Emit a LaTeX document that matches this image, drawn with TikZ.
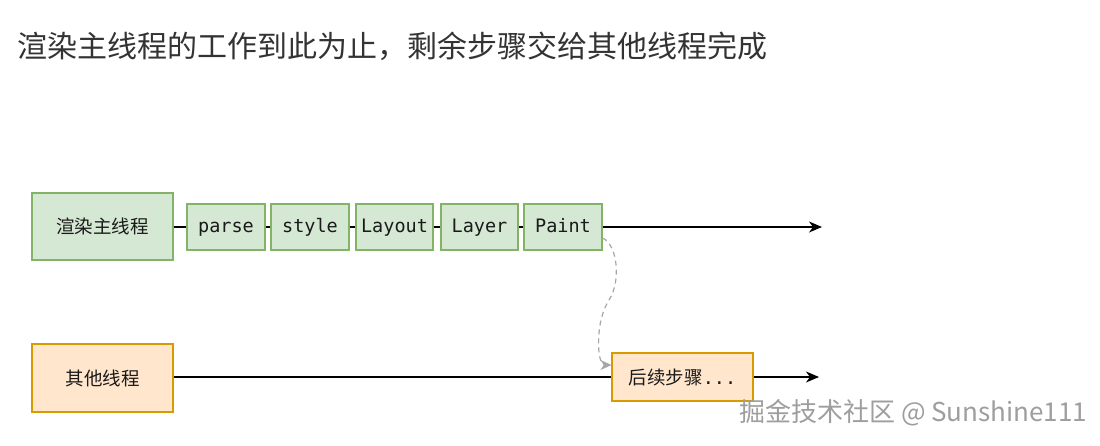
\documentclass[tikz,border=0pt]{standalone}
\usepackage{fontspec}
\setmainfont{Noto Sans CJK SC}
\newfontfamily\cjk{Noto Sans CJK SC}
\newfontfamily\mono{DejaVu Sans Mono}
\usetikzlibrary{arrows.meta}
\definecolor{gfill}{HTML}{D5E8D4}
\definecolor{gline}{HTML}{82B366}
\definecolor{ofill}{HTML}{FFE6CC}
\definecolor{oline}{HTML}{D79B00}
\definecolor{titlec}{HTML}{333333}
\definecolor{boxtext}{HTML}{1A1A1A}
\definecolor{dashc}{HTML}{A6A6A6}
\definecolor{wmark}{HTML}{9E9E9E}
\tikzset{
  box/.style={draw, line width=1.1pt, inner sep=0pt, text=boxtext},
  greenbox/.style={box, fill=gfill, draw=gline},
  orangebox/.style={box, fill=ofill, draw=oline},
  stepbox/.style={greenbox, minimum height=46pt, text height=13.5pt, text depth=3.5pt,
     font=\mono\fontsize{18.5}{20}\selectfont},
  link/.style={line width=1.3pt, draw=black},
  arrowlink/.style={link, -{Stealth[length=13pt,width=11pt,inset=4pt]}},
  handoff/.style={line width=1.2pt, draw=dashc, dash pattern=on 5pt off 4pt,
     -{Stealth[length=11pt,width=10pt,inset=3.5pt,fill=dashc]}},
}
\begin{document}
\begin{tikzpicture}[x=1pt,y=-1pt]
\useasboundingbox[fill=white] (0,0) rectangle (1100,445);
\node[anchor=west, text=titlec, font=\cjk\fontsize{30}{36}\selectfont, inner sep=0pt] (title) at (17,46) {渲染主线程的工作到此为止，剩余步骤交给其他线程完成};

\node[greenbox, minimum width=141pt, minimum height=67pt, font=\cjk\fontsize{18.5}{22}\selectfont] (main) at (102.5,226.5) {渲染主线程};
\node[stepbox, minimum width=78pt] (parse) at (226,227) {parse};
\node[stepbox, minimum width=78pt] (style) at (310,227) {style};
\node[stepbox, minimum width=77pt] (layout) at (394.5,227) {Layout};
\node[stepbox, minimum width=77pt] (layer) at (479.5,227) {Layer};
\node[stepbox, minimum width=78pt] (paint) at (563,227) {Paint};
\coordinate (mainend) at (822,227);

\node[orangebox, minimum width=141pt, minimum height=68pt, font=\cjk\fontsize{18.5}{22}\selectfont] (other) at (102.5,378) {其他线程};
\node[orangebox, minimum width=141pt, minimum height=48pt, font=\cjk\fontsize{18.5}{22}\selectfont] (next) at (682.5,377) {后续步骤{\mono\fontsize{18.5}{20}\selectfont...}};
\coordinate (otherend) at (819,377);

\draw[link] (main.east |- parse.west) -- (parse.west);
\draw[link] (parse) -- (style);
\draw[link] (style) -- (layout);
\draw[link] (layout) -- (layer);
\draw[link] (layer) -- (paint);
\draw[arrowlink] (paint.east) -- (mainend);

\draw[link] (other.east |- next.west) -- (next.west);
\draw[arrowlink] (next.east) -- (otherend);

\draw[handoff] ([yshift=-11pt]paint.east) .. controls (618,245) and (621,282) .. (609,300)
   .. controls (598,318) and (598,340) .. (599,353)
   .. controls (600,361) and (603,365) .. ([yshift=12pt]next.west);

\node[anchor=west, text=wmark, font=\cjk\fontsize{26}{30}\selectfont, inner sep=0pt] (wm) at (739,413) {掘金技术社区 @ Sunshine111};
\end{tikzpicture}
\end{document}
